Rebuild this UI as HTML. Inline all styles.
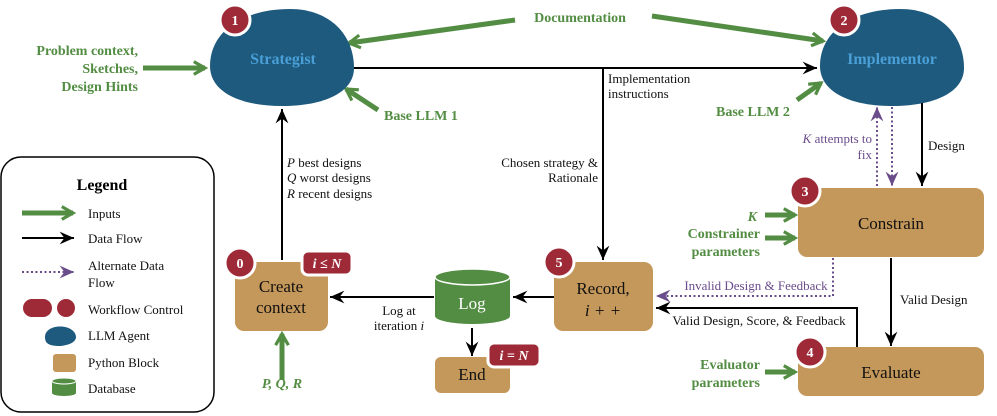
<!DOCTYPE html>
<html><head><meta charset="utf-8"><style>
body{margin:0;background:#fff}
svg{display:block}
text{font-family:"Liberation Serif","Times New Roman",serif}
.g{fill:#538d43;font-weight:bold;font-size:14px}
.t{font-size:13px;fill:#111}
</style></head><body>
<svg width="997" height="416" viewBox="0 0 997 416" xmlns="http://www.w3.org/2000/svg" font-family="Liberation Serif, serif">
<defs>
<marker id="ga" viewBox="0 0 10 10" refX="8" refY="5" markerWidth="3.2" markerHeight="3.2" orient="auto"><path d="M1,1 L8,5 L1,9" fill="none" stroke="#538d43" stroke-width="2"/></marker>
<marker id="ba" viewBox="0 0 10 10" refX="9" refY="5" markerWidth="8" markerHeight="8" orient="auto"><path d="M0,1 L9,5 L0,9 L3,5z" fill="#000"/></marker>
<marker id="pa" viewBox="0 0 10 10" refX="9" refY="5" markerWidth="8" markerHeight="8" orient="auto"><path d="M0,1 L9,5 L0,9 L3,5z" fill="#6b4c8a"/></marker>
</defs>
<g stroke="#538d43" stroke-width="5" fill="none" marker-end="url(#ga)">
<line x1="515" y1="20" x2="349" y2="43"/>
<line x1="652" y1="16" x2="823" y2="41"/>
<line x1="143" y1="68" x2="205" y2="68"/>
<line x1="378" y1="110" x2="346" y2="89"/>
<line x1="797" y1="100" x2="821" y2="83"/>
<line x1="765" y1="215" x2="795" y2="215"/>
<line x1="765" y1="238" x2="795" y2="238"/>
<line x1="765" y1="372" x2="795" y2="372"/>
<line x1="282" y1="380" x2="282" y2="334"/>
<line x1="22" y1="213" x2="73" y2="213"/>
</g>
<path d="M210,66 C210,30 245,9 290,9 C330,9 354,35 354,68 C354,92 325,106 282,106 C240,106 210,92 210,66Z" fill="#1d5a7e"/>
<path d="M820,66 C820,30 855,9 900,9 C940,9 964,35 964,68 C964,92 935,106 892,106 C850,106 820,92 820,66Z" fill="#1d5a7e"/>
<text x="283" y="64" text-anchor="middle" font-weight="bold" font-size="16" fill="#4a9fd6">Strategist</text>
<text x="892" y="64" text-anchor="middle" font-weight="bold" font-size="16" fill="#4a9fd6">Implementor</text>
<g stroke="#000" stroke-width="2" fill="none" marker-end="url(#ba)">
<line x1="354" y1="68" x2="817" y2="68"/>
<polyline points="603,68 603,260"/>
<line x1="282" y1="260" x2="282" y2="109"/>
<line x1="922" y1="103" x2="922" y2="186"/>
<line x1="891" y1="258" x2="891" y2="346"/>
<polyline points="857,347 857,308 656,308"/>
<line x1="554" y1="297" x2="513" y2="297"/>
<line x1="434" y1="297" x2="330" y2="297"/>
<line x1="472" y1="328" x2="472" y2="356"/>
<line x1="22" y1="238" x2="74" y2="238"/>
</g>
<g stroke="#6b4c8a" stroke-width="2" stroke-dasharray="2,2.5" fill="none" marker-end="url(#pa)">
<line x1="877" y1="186" x2="877" y2="107"/>
<line x1="892" y1="107" x2="892" y2="186"/>
<polyline points="833,258 833,296 656,296"/>
<line x1="22" y1="272" x2="74" y2="272"/>
</g>
<g fill="#c4975a">
<rect x="798" y="188" width="186" height="69" rx="9"/>
<rect x="798" y="347" width="186" height="49" rx="9"/>
<rect x="554" y="262" width="99" height="69" rx="9"/>
<rect x="235" y="262" width="93" height="69" rx="9"/>
<rect x="435" y="357" width="75" height="36" rx="6"/>
</g>
<path d="M435,277 L435,316 A37.5,8 0 0 0 510,316 L510,277Z" fill="#538d43"/>
<ellipse cx="472.5" cy="277" rx="37.5" ry="8" fill="#538d43" stroke="#fff" stroke-width="1.5"/>
<g fill="#9e2a38" stroke="#fff" stroke-width="3">
<circle cx="235" cy="20" r="15"/><circle cx="844" cy="20" r="15"/>
<circle cx="805" cy="191" r="15"/><circle cx="810" cy="352" r="15"/>
<circle cx="559" cy="262" r="15"/><circle cx="240" cy="263" r="15"/>
<rect x="302" y="251" width="50" height="24" rx="6"/>
<rect x="488" y="343" width="52" height="24" rx="6"/>
</g>
<g fill="#fff" font-weight="bold" font-size="14" text-anchor="middle">
<text x="235" y="25">1</text><text x="844" y="25">2</text><text x="805" y="196">3</text>
<text x="810" y="357">4</text><text x="559" y="267">5</text><text x="240" y="268">0</text>
<text x="327" y="268" font-style="italic">i ≤ N</text>
<text x="514" y="360" font-style="italic">i = N</text>
</g>
<g font-size="17" text-anchor="middle" fill="#111">
<text x="891" y="229">Constrain</text>
<text x="891" y="378">Evaluate</text>
<text x="603" y="294">Record,</text>
<text x="603" y="316" font-style="italic">i + +</text>
<text x="281" y="292">Create</text>
<text x="281" y="313">context</text>
<text x="472" y="380">End</text>
<text x="472" y="309" fill="#fff">Log</text>
</g>
<g class="g">
<text x="580" y="22" text-anchor="middle">Documentation</text>
<text x="138" y="55" text-anchor="end">Problem context,</text>
<text x="138" y="73" text-anchor="end">Sketches,</text>
<text x="138" y="91" text-anchor="end">Design Hints</text>
<text x="384" y="120">Base LLM 1</text>
<text x="716" y="116">Base LLM 2</text>
<text x="757" y="221" text-anchor="end" font-style="italic">K</text>
<text x="760" y="238" text-anchor="end">Constrainer</text>
<text x="760" y="256" text-anchor="end">parameters</text>
<text x="760" y="369" text-anchor="end">Evaluator</text>
<text x="760" y="387" text-anchor="end">parameters</text>
<text x="282" y="388" text-anchor="middle" font-style="italic">P, Q, R</text>
</g>
<g class="t">
<text x="608" y="83">Implementation</text>
<text x="608" y="98">instructions</text>
<text x="598" y="167" text-anchor="end">Chosen strategy &amp;</text>
<text x="598" y="182" text-anchor="end">Rationale</text>
<text x="287" y="167"><tspan font-style="italic">P</tspan> best designs</text>
<text x="287" y="182"><tspan font-style="italic">Q</tspan> worst designs</text>
<text x="287" y="198"><tspan font-style="italic">R</tspan> recent designs</text>
<text x="928" y="150">Design</text>
<text x="900" y="304">Valid Design</text>
<text x="759" y="325" text-anchor="middle">Valid Design, Score, &amp; Feedback</text>
<text x="756" y="290" text-anchor="middle" fill="#6b4c8a">Invalid Design &amp; Feedback</text>
<text x="872" y="143" text-anchor="end" fill="#6b4c8a"><tspan font-style="italic">K</tspan> attempts to</text>
<text x="872" y="159" text-anchor="end" fill="#6b4c8a">fix</text>
<text x="399" y="315" text-anchor="middle">Log at</text>
<text x="399" y="330" text-anchor="middle">iteration <tspan font-style="italic">i</tspan></text>
</g>
<rect x="1" y="157" width="213" height="255" rx="20" fill="none" stroke="#000" stroke-width="1.5"/>
<text x="102" y="190" text-anchor="middle" font-weight="bold" font-size="16">Legend</text>
<g class="t">
<text x="88" y="218">Inputs</text>
<text x="88" y="243">Data Flow</text>
<text x="88" y="270">Alternate Data</text>
<text x="88" y="287">Flow</text>
<text x="88" y="314">Workflow Control</text>
<text x="88" y="340">LLM Agent</text>
<text x="88" y="367">Python Block</text>
<text x="88" y="393">Database</text>
</g>
<rect x="23" y="299" width="29" height="18" rx="9" fill="#9e2a38"/>
<circle cx="66" cy="308" r="9" fill="#9e2a38"/>
<path d="M45,337 C45,323 75,323 76,337 C76,345 60,346 60,346 C48,346 45,343 45,337Z" fill="#1d5a7e"/>
<rect x="53" y="354" width="23" height="18" rx="3" fill="#c4975a"/>
<path d="M52,381 L52,393 A12,3 0 0 0 76,393 L76,381Z" fill="#538d43"/>
<ellipse cx="64" cy="381" rx="12" ry="3" fill="#538d43" stroke="#fff"/>
</svg>
</body></html>
